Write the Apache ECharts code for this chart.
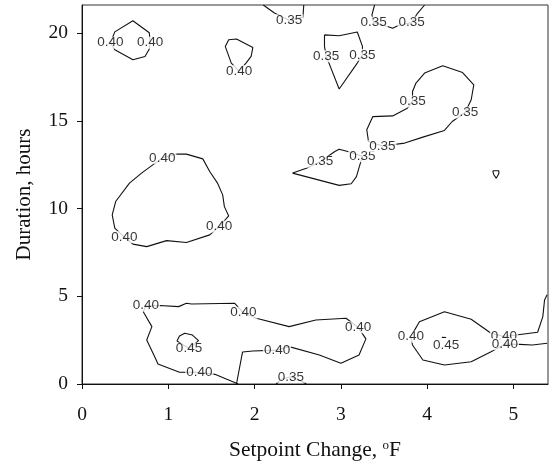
<!DOCTYPE html>
<html>
<head>
<meta charset="utf-8">
<script src="https://cdn.jsdelivr.net/npm/echarts@6/dist/echarts.min.js"></script>
<style>
  html, body { margin: 0; padding: 0; background: #fff; }
  #main { width: 549px; height: 461px; }
</style>
</head>
<body>
<div id="main"></div>
<script>
// tick labels
var xTicks = [0, 1, 2, 3, 4, 5];
var yTicks = [0, 5, 10, 15, 20];

// contour lines, [setpoint change, duration]
var c040TopLeft = [[0.33,19.45],[0.38,20.07],[0.59,20.70],[0.78,20.02],[0.79,19.45],[0.78,19.09],[0.73,18.67],[0.59,18.48],[0.38,19.05],[0.33,19.45]];
var c040TopMid = [[1.82,17.83],[1.73,18.29],[1.66,19.24],[1.70,19.62],[1.79,19.66],[1.98,19.18],[1.96,18.67],[1.90,18.29],[1.82,17.83]];
var c035TopA = [[2.10,21.6],[2.23,21.14],[2.40,20.73],[2.56,20.91],[2.57,21.6]];
var c035TopB = [[3.39,21.6],[3.36,21.04],[3.38,20.60],[3.54,20.38],[3.60,20.28],[3.66,20.42],[3.82,20.60],[3.89,21.14],[3.97,21.6]];
var c035Pent = [[2.81,19.90],[2.98,19.85],[3.19,20.06],[3.25,19.24],[3.25,18.76],[3.19,18.29],[2.98,16.81],[2.87,18.19],[2.83,18.67],[2.81,19.24],[2.81,19.90]];
var c035Small = [[2.76,12.67],[2.93,13.25],[2.98,13.38],[3.08,13.25],[3.25,12.98],[3.22,12.49],[3.18,11.82],[3.12,11.41],[2.98,11.32],[2.44,12.02],[2.60,12.30],[2.76,12.67]];
var c035Hook = [[3.48,13.56],[3.32,13.82],[3.30,14.49],[3.37,15.24],[3.60,15.28],[3.77,15.72],[3.83,16.10],[3.83,16.67],[3.87,17.15],[3.97,17.72],[4.18,18.14],[4.41,17.75],[4.54,17.05],[4.51,16.20],[4.44,15.47],[4.29,14.96],[4.20,14.45],[3.95,14.07],[3.74,13.73],[3.48,13.56]];
var cTiny = [[4.76,12.15],[4.83,12.15],[4.83,11.98],[4.80,11.73],[4.77,11.94],[4.76,12.15]];
var c040Left = [[0.93,12.89],[1.09,13.10],[1.21,13.10],[1.40,12.83],[1.48,12.11],[1.57,11.45],[1.63,10.78],[1.65,10.11],[1.70,9.58],[1.59,8.97],[1.48,8.50],[1.21,8.06],[0.98,8.17],[0.75,7.83],[0.59,7.97],[0.49,8.37],[0.38,8.88],[0.35,9.64],[0.39,10.40],[0.55,11.45],[0.69,12.02],[0.82,12.49],[0.93,12.89]];
var c040Bottom = [[1.81,0],[1.54,0.55],[1.36,0.66],[1.13,0.67],[0.88,1.14],[0.86,1.37],[0.75,2.51],[0.81,3.27],[0.71,4.12],[0.74,4.46],[0.90,4.47],[1.12,4.41],[1.21,4.60],[1.27,4.56],[1.77,4.60],[1.87,4.06],[2.02,3.75],[2.40,3.27],[2.71,3.65],[3.06,3.75],[3.20,3.23],[3.29,2.57],[3.21,1.65],[3.00,1.18],[2.75,1.65],[2.40,2.13],[2.26,1.93],[1.98,1.88],[1.86,1.82],[1.79,0]];
var c045Left = [[1.10,2.45],[1.13,2.73],[1.19,2.89],[1.28,2.79],[1.35,2.47],[1.24,2.02],[1.10,2.45]];
var c035Bottom = [[2.25,0],[2.31,0.27],[2.42,0.41],[2.54,0.17],[2.60,0]];
var c040RightUpper = [[3.81,2.70],[3.91,3.55],[4.20,4.12],[4.51,3.69],[4.74,2.89],[4.89,2.71],[5.03,2.79],[5.28,2.95],[5.34,3.84],[5.36,4.79],[5.39,5.08]];
var c040RightLower = [[3.81,2.70],[3.83,2.22],[3.95,1.37],[4.20,1.08],[4.51,1.27],[4.74,1.84],[4.90,2.27],[5.07,2.26],[5.22,2.22],[5.39,2.32]];
var c045Right = [[4.17,2.66],[4.22,2.65]];

// contour level labels [x, y, text]
var levelLabels = [
    [0.33,19.45,'0.40'],[0.79,19.45,'0.40'],[1.82,17.83,'0.40'],
    [2.40,20.73,'0.35'],[3.38,20.60,'0.35'],[3.82,20.60,'0.35'],
    [3.25,18.76,'0.35'],[2.83,18.67,'0.35'],
    [2.76,12.67,'0.35'],[3.25,12.98,'0.35'],
    [3.48,13.56,'0.35'],[3.83,16.10,'0.35'],[4.44,15.47,'0.35'],
    [0.93,12.89,'0.40'],[1.59,8.97,'0.40'],[0.49,8.37,'0.40'],
    [1.36,0.66,'0.40'],[0.74,4.46,'0.40'],[1.87,4.06,'0.40'],[3.20,3.23,'0.40'],[2.26,1.93,'0.40'],
    [1.24,2.02,'0.45'],[2.42,0.41,'0.35'],
    [3.81,2.70,'0.40'],[4.89,2.71,'0.40'],[4.90,2.27,'0.40'],
    [4.22,2.18,'0.45']
];

var contours = [c040TopLeft, c040TopMid, c035TopA, c035TopB, c035Pent, c035Small, c035Hook, cTiny,
    c040Left, c040Bottom, c045Left, c035Bottom, c040RightUpper, c040RightLower, c045Right];

var serif = '"Liberation Serif", "Times New Roman", serif';
var sans = '"Liberation Sans", Arial, sans-serif';

var myChart = echarts.init(document.getElementById('main'));

var series = contours.map(function (d) {
    return {
        type: 'line',
        data: d,
        symbol: 'none',
        silent: true,
        z: 2,
        lineStyle: {color: '#111', width: 1.1}
    };
});
series.push({
    type: 'scatter',
    data: levelLabels,
    symbolSize: 0,
    silent: true,
    z: 5,
    label: {
        show: true,
        position: 'inside',
        formatter: function (p) { return p.value[2]; },
        fontFamily: sans,
        fontSize: 13.5,
        color: '#000',
        backgroundColor: '#fff',
        padding: [0, 1],
        lineHeight: 12
    }
});

myChart.setOption({
    animation: false,
    grid: {
        left: 82, right: 1, top: 5, bottom: 77,
        outerBoundsMode: 'none',
        containLabel: false,
        show: true, borderColor: '#333', borderWidth: 1
    },
    xAxis: {
        type: 'value',
        min: 0, max: 5.4,
        name: 'Setpoint Change, {sup|o}F',
        nameLocation: 'middle',
        nameGap: 55,
        nameTextStyle: {
            fontFamily: serif, fontSize: 21.5, color: '#111',
            rich: {sup: {fontFamily: serif, fontSize: 13, color: '#111', verticalAlign: 'top', padding: [0, 0, 10, 0]}}
        },
        splitLine: {show: false},
        axisLine: {lineStyle: {color: '#111', width: 1}},
        axisTick: {length: 5, customValues: xTicks, lineStyle: {color: '#111'}},
        axisLabel: {customValues: xTicks, margin: 21, fontFamily: serif, fontSize: 19.5, color: '#111'}
    },
    yAxis: {
        type: 'value',
        min: 0, max: 21.6,
        name: 'Duration, hours',
        nameLocation: 'middle',
        nameGap: 47,
        nameRotate: 90,
        nameTextStyle: {fontFamily: serif, fontSize: 21, color: '#111'},
        splitLine: {show: false},
        axisLine: {show: true, lineStyle: {color: '#111', width: 1}},
        axisTick: {show: true, length: 5, customValues: yTicks, lineStyle: {color: '#111'}},
        axisLabel: {customValues: yTicks, margin: 14, fontFamily: serif, fontSize: 19.5, color: '#111'}
    },
    series: series
});
</script>
</body>
</html>
